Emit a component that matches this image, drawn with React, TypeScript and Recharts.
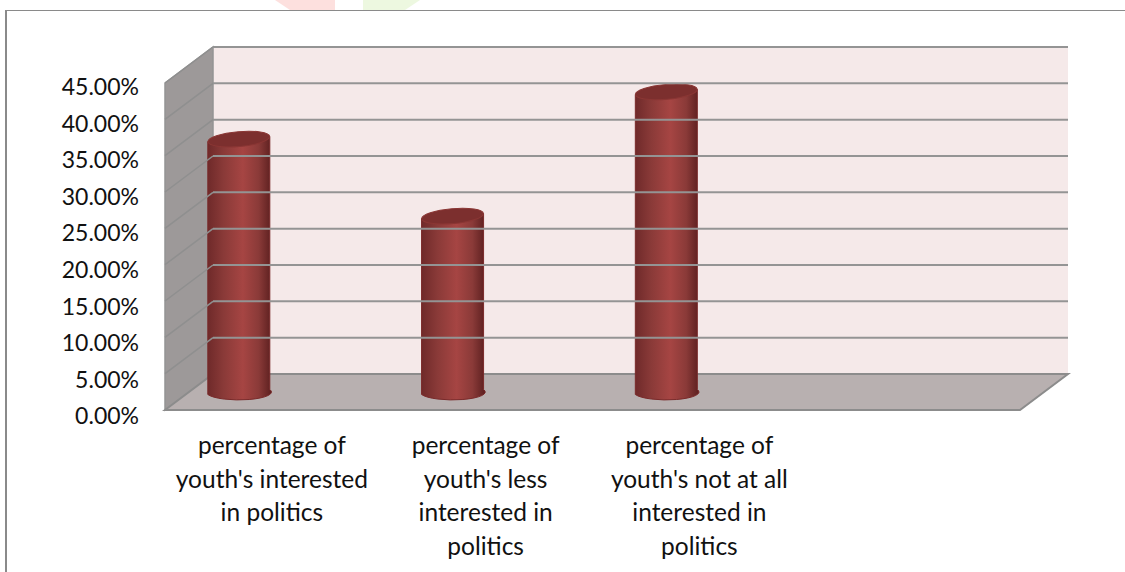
import { Bar, BarChart, XAxis, YAxis } from "recharts";

const categories = [
  "percentage of youth's interested in politics",
  "percentage of youth's less interested in politics",
  "percentage of youth's not at all interested in politics",
  "",
];
const categoryLines = [
  ["percentage of", "youth's interested", "in politics"],
  ["percentage of", "youth's less", "interested in", "politics"],
  ["percentage of", "youth's not at all", "interested in", "politics"],
  [],
];
const shares = [34.8, 24.2, 41.3, null];
const yTicks = [0, 5, 10, 15, 20, 25, 30, 35, 40, 45];

const data = categories.map((name, i) => ({ name, share: shares[i] }));

const WIDTH = 1125;
const HEIGHT = 572;
const LEFT = 165;
const RIGHT_EDGE = 1020;
const TOP = 83;
const BOTTOM = 410;
const DEPTH_X = 48;
const DEPTH_Y = 36;
const FONT = "Lato, sans-serif";

// floor and side/back walls of the 3D box
function Walls() {
  const backL = LEFT + DEPTH_X;
  const backR = RIGHT_EDGE + DEPTH_X;
  const backT = TOP - DEPTH_Y;
  const backB = BOTTOM - DEPTH_Y;
  return (
    <g>
      <rect x={backL} y={backT} width={backR - backL} height={backB - backT} fill="#f5e9e9" />
      <polygon
        points={`${LEFT},${TOP} ${backL},${backT} ${backL},${backB} ${LEFT},${BOTTOM}`}
        fill="#9d9999"
        stroke="#949494"
        strokeWidth={1.5}
      />
      <polygon
        points={`${LEFT},${BOTTOM} ${backL},${backB} ${backR},${backB} ${RIGHT_EDGE},${BOTTOM}`}
        fill="#b8b0b0"
        stroke="#8c8c8c"
        strokeWidth={2}
      />
      <line x1={backL} x2={backR} y1={backT} y2={backT} stroke="#949494" strokeWidth={2} />
    </g>
  );
}

// value label plus the grid line that runs along the side and back walls
function YTick({ x, y, payload }: any) {
  const isFloor = payload.value === 0;
  return (
    <g>
      {!isFloor && (
        <>
          <line x1={LEFT} y1={y} x2={LEFT + DEPTH_X} y2={y - DEPTH_Y} stroke="#8f8f8f" strokeWidth={1.5} />
          <line x1={LEFT + DEPTH_X} y1={y - DEPTH_Y} x2={RIGHT_EDGE + DEPTH_X} y2={y - DEPTH_Y} stroke="#949494" strokeWidth={2} />
        </>
      )}
      <text x={x} y={y + 3 + (45 - payload.value) * 0.05} textAnchor="end" dominantBaseline="central" fontFamily={FONT} fontSize={23} fill="#111">
        {payload.value.toFixed(2)}%
      </text>
    </g>
  );
}

function XTick({ x, y, index }: any) {
  return (
    <text textAnchor="middle" fontFamily={FONT} fontSize={24.5} fill="#111">
      {categoryLines[index].map((line, i) => (
        <tspan key={line} x={x} y={y + 36 + i * 33.5}>
          {line}
        </tspan>
      ))}
    </text>
  );
}

// the bar stands in the middle of the box, so it sits off the front plane
function Cylinder({ x, y, width, height }: any) {
  if (!height) return null;
  const cx = x + width / 2 - 33;
  const top = y - 18;
  const bottom = y + height - 18;
  const rx = 31;
  const ry = 7.5;
  return (
    <g>
      <path
        d={`M${cx - rx},${top + 2.5} L${cx - rx},${bottom + 2.5} A${rx},${ry} 0 0 0 ${cx + rx},${bottom - 2.5} L${cx + rx},${top - 2.5} Z`}
        fill="url(#cylinderBody)"
        stroke="#7a2a2a"
        strokeWidth={1}
      />
      <ellipse cx={cx} cy={top} rx={rx} ry={ry} fill="#7c2f2e" stroke="#8a3634" transform={`rotate(-5 ${cx} ${top})`} />
    </g>
  );
}

export default function App() {
  return (
    <div style={{ position: "absolute", left: 0, top: 0, width: WIDTH, height: HEIGHT, background: "#fff", overflow: "hidden" }}>
      <svg width={WIDTH} height={12} style={{ position: "absolute", left: 0, top: 0 }}>
        <path d="M275,0 L335,0 L335,10 L290,10 Z" fill="#fde0de" />
        <path d="M363,0 L420,0 L405,10 L363,10 Z" fill="#edf8e0" />
      </svg>
      <div style={{ position: "absolute", left: 5, top: 10, width: WIDTH, height: HEIGHT, borderLeft: "2px solid #8a8a8a", borderTop: "1.5px solid #8a8a8a" }} />
      <div style={{ position: "absolute", left: 0, top: 0 }}>
        <BarChart
          width={WIDTH}
          height={HEIGHT}
          data={data}
          margin={{ top: TOP, left: 0, right: WIDTH - RIGHT_EDGE, bottom: 0 }}
          barCategoryGap="35%"
        >
          <defs>
            <linearGradient id="cylinderBody" x1="0" x2="1" y1="0" y2="0">
              <stop offset="0" stopColor="#6f2a2a" />
              <stop offset="0.25" stopColor="#8a3a38" />
              <stop offset="0.55" stopColor="#a64543" />
              <stop offset="0.8" stopColor="#8a3a38" />
              <stop offset="1" stopColor="#5c1f1f" />
            </linearGradient>
          </defs>
          <Walls />
          <XAxis dataKey="name" axisLine={false} tickLine={false} interval={0} height={HEIGHT - BOTTOM} tick={<XTick />} />
          <YAxis width={LEFT} domain={[0, 45]} ticks={yTicks} interval={0} axisLine={false} tickLine={false} tickMargin={20} tick={<YTick />} />
          <Bar dataKey="share" shape={<Cylinder />} isAnimationActive={false} />
        </BarChart>
      </div>
    </div>
  );
}
